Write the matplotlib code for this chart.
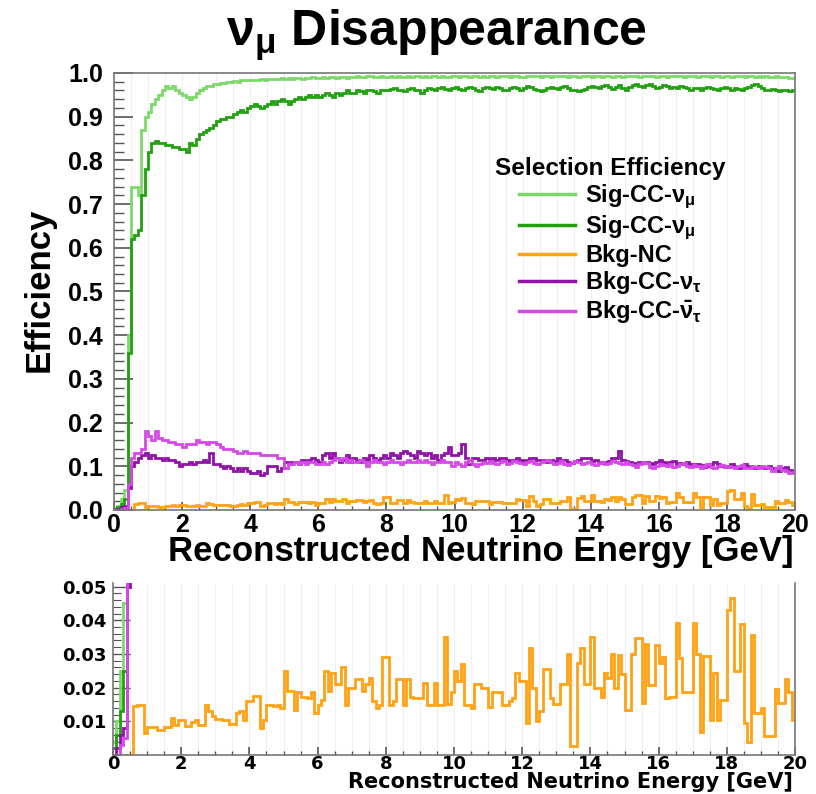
import numpy as np
import matplotlib
matplotlib.use("Agg")
import matplotlib.pyplot as plt
from matplotlib.lines import Line2D
from matplotlib.ticker import MultipleLocator, FormatStrFormatter, FixedLocator

plt.rcParams['font.family'] = ['Liberation Sans', 'DejaVu Sans']
plt.rcParams['font.weight'] = 'bold'
plt.rcParams['mathtext.fontset'] = 'custom'
plt.rcParams['mathtext.rm'] = 'Liberation Sans'
plt.rcParams['mathtext.it'] = 'Liberation Sans:italic'

# 200 bins of 0.1 GeV, 0 - 20 GeV
bin_width = 0.1
n_bins = 200

sig_numu = [
    0.004, 0.010, 0.025, 0.045, 0.40, 0.74, 0.74, 0.72, 0.87, 0.90,
    0.91, 0.93, 0.94, 0.95, 0.96, 0.97, 0.965, 0.97, 0.96, 0.955,
    0.95, 0.945, 0.94, 0.945, 0.955, 0.96, 0.965, 0.97, 0.97, 0.975,
    0.975, 0.978, 0.978, 0.98, 0.98, 0.982, 0.98, 0.983, 0.983, 0.985,
    0.984, 0.985, 0.984, 0.986, 0.985, 0.987, 0.986, 0.987, 0.986, 0.988,
    0.987, 0.988, 0.987, 0.989, 0.988, 0.987, 0.989, 0.988, 0.990, 0.989,
    0.988, 0.990, 0.989, 0.991, 0.990, 0.989, 0.991, 0.990, 0.989, 0.991,
    0.990, 0.992, 0.991, 0.990, 0.992, 0.994, 0.991, 0.990, 0.992, 0.991,
    0.990, 0.992, 0.991, 0.993, 0.991, 0.990, 0.992, 0.991, 0.993, 0.992,
    0.991, 0.992, 0.990, 0.992, 0.993, 0.991, 0.992, 0.990, 0.991, 0.993,
    0.992, 0.991, 0.993, 0.992, 0.990, 0.992, 0.993, 0.991, 0.992, 0.990,
    0.992, 0.993, 0.991, 0.992, 0.994, 0.992, 0.991, 0.993, 0.992, 0.990,
    0.991, 0.993, 0.992, 0.994, 0.992, 0.991, 0.993, 0.992, 0.991, 0.993,
    0.992, 0.994, 0.993, 0.991, 0.992, 0.993, 0.991, 0.992, 0.994, 0.992,
    0.991, 0.993, 0.992, 0.990, 0.992, 0.993, 0.991, 0.992, 0.993, 0.991,
    0.992, 0.994, 0.993, 0.992, 0.991, 0.993, 0.992, 0.994, 0.992, 0.991,
    0.993, 0.992, 0.991, 0.993, 0.992, 0.994, 0.993, 0.991, 0.992, 0.993,
    0.992, 0.991, 0.993, 0.994, 0.992, 0.991, 0.993, 0.992, 0.991, 0.992,
    0.993, 0.991, 0.992, 0.994, 0.992, 0.991, 0.993, 0.992, 0.990, 0.992,
    0.991, 0.992, 0.990, 0.991, 0.992, 0.990, 0.991, 0.990, 0.989, 0.989,
]

sig_numu2 = [
    0.002, 0.006, 0.013, 0.025, 0.36, 0.62, 0.63, 0.64, 0.72, 0.78,
    0.82, 0.84, 0.845, 0.84, 0.84, 0.835, 0.835, 0.83, 0.83, 0.825,
    0.825, 0.82, 0.84, 0.835, 0.85, 0.86, 0.865, 0.87, 0.875, 0.88,
    0.89, 0.895, 0.895, 0.90, 0.90, 0.905, 0.91, 0.915, 0.91, 0.92,
    0.925, 0.93, 0.925, 0.92, 0.925, 0.93, 0.935, 0.93, 0.935, 0.94,
    0.935, 0.93, 0.935, 0.94, 0.945, 0.94, 0.945, 0.95, 0.945, 0.95,
    0.945, 0.95, 0.955, 0.95, 0.945, 0.955, 0.95, 0.955, 0.96, 0.955,
    0.955, 0.960, 0.958, 0.955, 0.960, 0.962, 0.958, 0.955, 0.960, 0.962,
    0.960, 0.963, 0.965, 0.962, 0.960, 0.958, 0.963, 0.965, 0.962, 0.960,
    0.955, 0.962, 0.965, 0.963, 0.960, 0.965, 0.967, 0.963, 0.960, 0.965,
    0.967, 0.964, 0.960, 0.965, 0.968, 0.965, 0.962, 0.958, 0.965, 0.968,
    0.966, 0.963, 0.968, 0.965, 0.962, 0.960, 0.965, 0.968, 0.965, 0.962,
    0.966, 0.970, 0.967, 0.963, 0.960, 0.958, 0.962, 0.965, 0.968, 0.966,
    0.963, 0.967, 0.970, 0.966, 0.962, 0.960, 0.958, 0.960, 0.963, 0.967,
    0.970, 0.968, 0.965, 0.970, 0.972, 0.967, 0.963, 0.968, 0.972, 0.966,
    0.962, 0.968, 0.972, 0.974, 0.970, 0.968, 0.972, 0.975, 0.970, 0.966,
    0.968, 0.972, 0.970, 0.966, 0.968, 0.966, 0.970, 0.968, 0.965, 0.962,
    0.966, 0.965, 0.962, 0.965, 0.968, 0.966, 0.963, 0.960, 0.965, 0.967,
    0.965, 0.962, 0.966, 0.964, 0.962, 0.965, 0.968, 0.972, 0.975, 0.970,
    0.966, 0.962, 0.960, 0.963, 0.960, 0.958, 0.962, 0.960, 0.958, 0.962,
]

bkg_nc = [
    0.0, 0.0, 0.0, 0.0, 0.0, 0.0, 0.0146, 0.015, 0.015, 0.0065,
    0.0084, 0.0084, 0.0084, 0.0075, 0.0075, 0.0084, 0.0084, 0.011, 0.0088, 0.0105,
    0.0105, 0.0085, 0.0085, 0.0098, 0.0105, 0.0088, 0.0088, 0.015, 0.0132, 0.0115,
    0.0108, 0.0108, 0.0103, 0.0103, 0.0093, 0.0093, 0.0125, 0.013, 0.0105, 0.016,
    0.016, 0.0175, 0.0175, 0.008, 0.0105, 0.015, 0.015, 0.0145, 0.015, 0.014,
    0.025, 0.019, 0.019, 0.0134, 0.0187, 0.0173, 0.0173, 0.0168, 0.0187, 0.0125,
    0.015, 0.0163, 0.025, 0.019, 0.0245, 0.021, 0.021, 0.026, 0.015, 0.020,
    0.020, 0.0226, 0.0226, 0.019, 0.021, 0.023, 0.016, 0.0139, 0.015, 0.029,
    0.029, 0.015, 0.016, 0.0226, 0.0226, 0.015, 0.0226, 0.0173, 0.0168, 0.0168,
    0.0168, 0.0215, 0.015, 0.015, 0.0215, 0.015, 0.015, 0.035, 0.0152, 0.0187,
    0.025, 0.022, 0.027, 0.015, 0.015, 0.014, 0.021, 0.021, 0.020, 0.020,
    0.0144, 0.0187, 0.0187, 0.0187, 0.0149, 0.0149, 0.016, 0.0168, 0.0245, 0.022,
    0.022, 0.0096, 0.0318, 0.020, 0.010, 0.013, 0.0255, 0.0255, 0.0168, 0.0153,
    0.0153, 0.021, 0.021, 0.030, 0.0028, 0.0028, 0.0274, 0.0318, 0.021, 0.021,
    0.035, 0.020, 0.020, 0.0173, 0.0245, 0.023, 0.030, 0.020, 0.0298, 0.024,
    0.0134, 0.0134, 0.030, 0.0347, 0.0347, 0.0154, 0.033, 0.0207, 0.0207, 0.0328,
    0.0274, 0.029, 0.0168, 0.0173, 0.0173, 0.0393, 0.0289, 0.0187, 0.0187, 0.0187,
    0.0393, 0.030, 0.0069, 0.0294, 0.0294, 0.0105, 0.0245, 0.0105, 0.0163, 0.0163,
    0.0429, 0.0465, 0.025, 0.025, 0.039, 0.0096, 0.0038, 0.0357, 0.0125, 0.0125,
    0.0139, 0.0057, 0.0057, 0.0057, 0.0197, 0.0154, 0.0154, 0.0226, 0.0187, 0.0105,
]

bkg_nutau = [
    0.0, 0.002, 0.006, 0.008, 0.05, 0.10, 0.11, 0.12, 0.125, 0.13,
    0.12, 0.125, 0.12, 0.12, 0.115, 0.12, 0.115, 0.115, 0.11, 0.10,
    0.105, 0.105, 0.11, 0.105, 0.11, 0.11, 0.115, 0.11, 0.13, 0.105,
    0.105, 0.10, 0.095, 0.10, 0.095, 0.09, 0.095, 0.09, 0.095, 0.09,
    0.085, 0.085, 0.09, 0.08, 0.085, 0.10, 0.10, 0.10, 0.09, 0.095,
    0.11, 0.105, 0.11, 0.11, 0.105, 0.115, 0.11, 0.115, 0.12, 0.115,
    0.11, 0.125, 0.13, 0.12, 0.13, 0.12, 0.11, 0.115, 0.125, 0.11,
    0.12, 0.115, 0.11, 0.12, 0.115, 0.125, 0.12, 0.115, 0.12, 0.125,
    0.12, 0.13, 0.125, 0.12, 0.13, 0.135, 0.13, 0.125, 0.12, 0.135,
    0.13, 0.125, 0.13, 0.12, 0.125, 0.115, 0.125, 0.13, 0.145, 0.125,
    0.125, 0.13, 0.15, 0.12, 0.105, 0.12, 0.12, 0.115, 0.115, 0.12,
    0.115, 0.12, 0.115, 0.12, 0.118, 0.115, 0.112, 0.115, 0.12, 0.115,
    0.112, 0.115, 0.118, 0.12, 0.115, 0.112, 0.115, 0.11, 0.115, 0.112,
    0.118, 0.112, 0.115, 0.11, 0.108, 0.112, 0.115, 0.12, 0.12, 0.118,
    0.112, 0.115, 0.11, 0.108, 0.11, 0.112, 0.118, 0.12, 0.135, 0.115,
    0.112, 0.11, 0.108, 0.105, 0.11, 0.108, 0.11, 0.108, 0.105, 0.11,
    0.115, 0.11, 0.105, 0.11, 0.112, 0.105, 0.108, 0.105, 0.11, 0.105,
    0.10, 0.105, 0.102, 0.098, 0.10, 0.105, 0.11, 0.105, 0.10, 0.098,
    0.10, 0.105, 0.098, 0.095, 0.10, 0.105, 0.10, 0.098, 0.095, 0.10,
    0.098, 0.095, 0.10, 0.097, 0.095, 0.09, 0.095, 0.098, 0.092, 0.088,
]

bkg_nutaubar = [
    0.0, 0.0, 0.003, 0.005, 0.06, 0.12, 0.13, 0.13, 0.14, 0.18,
    0.17, 0.16, 0.18, 0.165, 0.16, 0.16, 0.155, 0.155, 0.15, 0.15,
    0.145, 0.15, 0.15, 0.15, 0.16, 0.155, 0.155, 0.15, 0.155, 0.155,
    0.15, 0.145, 0.14, 0.14, 0.14, 0.135, 0.13, 0.13, 0.135, 0.13,
    0.13, 0.13, 0.13, 0.125, 0.125, 0.125, 0.125, 0.125, 0.12, 0.12,
    0.095, 0.105, 0.105, 0.11, 0.105, 0.11, 0.105, 0.11, 0.11, 0.105,
    0.105, 0.11, 0.105, 0.11, 0.115, 0.12, 0.115, 0.12, 0.11, 0.115,
    0.11, 0.11, 0.115, 0.11, 0.10, 0.11, 0.115, 0.11, 0.11, 0.105,
    0.11, 0.115, 0.11, 0.11, 0.105, 0.11, 0.115, 0.11, 0.11, 0.115,
    0.11, 0.115, 0.11, 0.105, 0.11, 0.11, 0.115, 0.11, 0.11, 0.10,
    0.11, 0.105, 0.10, 0.11, 0.115, 0.105, 0.10, 0.105, 0.11, 0.108,
    0.112, 0.108, 0.105, 0.11, 0.112, 0.105, 0.108, 0.112, 0.11, 0.108,
    0.105, 0.11, 0.112, 0.108, 0.105, 0.11, 0.112, 0.115, 0.11, 0.105,
    0.108, 0.112, 0.105, 0.102, 0.108, 0.112, 0.11, 0.105, 0.108, 0.11,
    0.105, 0.102, 0.108, 0.11, 0.105, 0.108, 0.112, 0.11, 0.108, 0.105,
    0.11, 0.105, 0.102, 0.098, 0.105, 0.11, 0.108, 0.098, 0.095, 0.10,
    0.105, 0.102, 0.10, 0.105, 0.098, 0.10, 0.105, 0.108, 0.10, 0.098,
    0.102, 0.10, 0.097, 0.10, 0.105, 0.098, 0.095, 0.10, 0.102, 0.098,
    0.10, 0.098, 0.095, 0.10, 0.102, 0.097, 0.095, 0.10, 0.098, 0.095,
    0.10, 0.098, 0.095, 0.09, 0.095, 0.10, 0.092, 0.09, 0.085, 0.088,
]

labels = [r'Sig-CC-$\mathrm{\nu_{\mu}}$', r'Sig-CC-$\mathrm{\nu_{\mu}}$', 'Bkg-NC',
          r'Bkg-CC-$\mathrm{\nu_{\tau}}$', r'Bkg-CC-$\mathrm{\bar{\nu}_{\tau}}$']
colors = ['#7dd86a', '#22a012', '#ffa214', '#9012a8', '#d648e8']
series = [sig_numu, sig_numu2, bkg_nc, bkg_nutau, bkg_nutaubar]

edges = np.arange(n_bins + 1) * bin_width

fig = plt.figure(figsize=(8.16, 7.94), dpi=100)
ax = fig.add_axes([0.1397, 0.3577, 0.8346, 0.5504])
ax2 = fig.add_axes([0.1385, 0.049, 0.8358, 0.2165])

for a in (ax, ax2):
    for vals, c in zip(series, colors):
        a.stairs(vals, edges, color=c, lw=2.0, baseline=None)
    a.set_xlim(0, 20)
    a.xaxis.set_major_locator(MultipleLocator(2))
    a.xaxis.set_minor_locator(MultipleLocator(0.5))
    a.grid(True, which='both', axis='x', color='#f0f0f0', lw=0.8)
    a.set_axisbelow(True)
    for s in a.spines.values():
        s.set_color('#777777')
        s.set_linewidth(1.2)

# top panel
ax.set_ylim(0, 1.0)
ax.yaxis.set_major_locator(MultipleLocator(0.1))
ax.yaxis.set_minor_locator(MultipleLocator(0.02))
ax.yaxis.set_major_formatter(FormatStrFormatter('%.1f'))
ax.tick_params(axis='y', which='major', direction='in', length=14, width=1.2,
               color='#555555', labelsize=18, pad=8)
ax.tick_params(axis='y', which='minor', direction='in', length=7, width=1.0, color='#555555')
ax.tick_params(axis='x', which='major', direction='in', length=6, width=1.2,
               color='#555555', labelsize=18, pad=2)
ax.tick_params(axis='x', which='minor', direction='in', length=3, width=1.0, color='#555555')

handles = [Line2D([], [], color=c, lw=2.5) for c in colors]
leg = ax.legend(handles, labels, loc='upper left', bbox_to_anchor=(0.607, 0.802),
                bbox_transform=fig.transFigure, frameon=False, fontsize=17,
                title='Selection Efficiency', title_fontproperties={'weight': 'bold', 'size': 17.5},
                handlelength=2.35, handletextpad=0.45, labelspacing=0.1,
                borderpad=0, borderaxespad=0)

# bottom zoom panel
ax2.set_ylim(0, 0.051)
ax2.yaxis.set_major_locator(FixedLocator([0.01, 0.02, 0.03, 0.04, 0.05]))
ax2.yaxis.set_minor_locator(MultipleLocator(0.002))
ax2.yaxis.set_major_formatter(FormatStrFormatter('%.2f'))
ax2.spines['top'].set_visible(False)
ax2.tick_params(axis='y', which='major', direction='in', length=12, width=1.0,
                color='#555555', labelsize=13, pad=5, labelfontfamily='DejaVu Sans')
ax2.tick_params(axis='y', which='minor', direction='in', length=6, width=0.8, color='#555555')
ax2.tick_params(axis='x', which='major', direction='in', length=6, width=1.2,
                color='#555555', labelsize=13, pad=0, labelfontfamily='DejaVu Sans')
ax2.tick_params(axis='x', which='minor', direction='in', length=3, width=1.0, color='#555555')

fig.text(0.535, 0.955, r'$\mathrm{\nu_{\mu}}$ Disappearance', ha='center', va='center',
         fontsize=36, fontweight='bold')
fig.text(0.048, 0.635, 'Efficiency', rotation=90, ha='center', va='center',
         fontsize=25, fontweight='bold')
fig.text(0.972, 0.305, 'Reconstructed Neutrino Energy [GeV]', ha='right', va='center',
         fontsize=25, fontweight='bold')
fig.text(0.972, 0.003, 'Reconstructed Neutrino Energy [GeV]', ha='right', va='bottom',
         fontsize=15, fontweight='bold', family=['DejaVu Sans'])

fig.savefig('out.png', dpi=100, facecolor='white')
